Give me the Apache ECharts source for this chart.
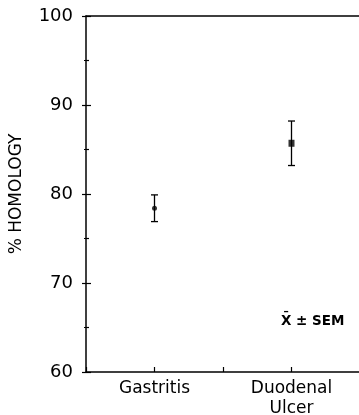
<!DOCTYPE html>
<html>
<head>
<meta charset="utf-8">
<script src="https://cdn.jsdelivr.net/npm/echarts@6/dist/echarts.min.js"></script>
<style>
html,body{margin:0;padding:0;background:#fff}
#chart{width:359px;height:415px}
</style>
</head>
<body>
<div id="chart"></div>
<script>
// groups and their x position on the axis
var categories = ['Gastritis', 'Duodenal\nUlcer'];
var xPos = [1, 3];
// mean % homology and SEM
var means = [78.4, 85.7];
var sem = [1.5, 2.5];
var marks = ['circle', 'rect'];
var markSize = [5, [6, 7]];
var yTicks = [60, 70, 80, 90, 100];

var myChart = echarts.init(document.getElementById('chart'));
var font = 'DejaVu Sans';

var option = {
  animation: false,
  grid: {left: 86, top: 16, width: 274, height: 356, outerBoundsMode: 'none', containLabel: false},
  xAxis: [{
    type: 'value', min: 0, max: 4, interval: 1,
    axisLine: {lineStyle: {color: '#000', width: 1.5}},
    axisTick: {inside: true, length: 5, lineStyle: {color: '#000', width: 1.2}},
    splitLine: {show: false},
    axisLabel: {
      margin: 7, color: '#000', fontFamily: font, fontSize: 17, lineHeight: 20,
      formatter: function (v) {
        var i = xPos.indexOf(v);
        return i >= 0 ? categories[i] : '';
      }
    }
  }, {
    type: 'value', min: 0, max: 4, position: 'top',
    axisLine: {show: true, lineStyle: {color: '#000', width: 1.5}},
    axisTick: {show: false}, axisLabel: {show: false}, splitLine: {show: false}
  }],
  yAxis: [{
    type: 'value', min: yTicks[0], max: yTicks[yTicks.length - 1], interval: 10,
    name: '% HOMOLOGY', nameLocation: 'middle', nameGap: 61, nameRotate: 90,
    nameTextStyle: {color: '#000', fontFamily: font, fontSize: 17},
    axisLine: {show: true, lineStyle: {color: '#000', width: 1.5}},
    axisTick: {inside: true, length: 5, lineStyle: {color: '#000', width: 1.2}},
    minorTick: {show: true, splitNumber: 2, length: 3, lineStyle: {color: '#000', width: 1.2}},
    splitLine: {show: false},
    axisLabel: {margin: 13, color: '#000', fontFamily: font, fontSize: 18}
  }, {
    type: 'value', min: yTicks[0], max: yTicks[yTicks.length - 1], interval: 10, position: 'right',
    axisLine: {show: false},
    axisTick: {show: true, inside: true, length: 4, lineStyle: {color: '#000', width: 1.2}},
    minorTick: {show: true, splitNumber: 2, length: 2, lineStyle: {color: '#000', width: 1.2}},
    splitLine: {show: false}, axisLabel: {show: false}
  }],
  series: [{
    type: 'custom',
    data: xPos.map(function (x, i) { return [x, means[i] - sem[i], means[i] + sem[i]]; }),
    renderItem: function (params, api) {
      var lo = api.coord([api.value(0), api.value(1)]);
      var hi = api.coord([api.value(0), api.value(2)]);
      var w = 3.5;
      var st = {stroke: '#000', lineWidth: 1.3};
      return {type: 'group', children: [
        {type: 'line', shape: {x1: lo[0], y1: lo[1], x2: hi[0], y2: hi[1]}, style: st},
        {type: 'line', shape: {x1: lo[0] - w, y1: lo[1], x2: lo[0] + w, y2: lo[1]}, style: st},
        {type: 'line', shape: {x1: hi[0] - w, y1: hi[1], x2: hi[0] + w, y2: hi[1]}, style: st}
      ]};
    }
  }, {
    type: 'scatter',
    itemStyle: {color: '#000'},
    data: xPos.map(function (x, i) {
      return {value: [x, means[i]], symbol: marks[i], symbolSize: markSize[i]};
    })
  }],
  graphic: [{
    type: 'text', left: 281, top: 314,
    style: {text: 'X\u0304 \u00B1 SEM', fill: '#000', font: '600 13.5px "DejaVu Sans"'}
  }]
};

myChart.setOption(option);
window.addEventListener("resize", function () {
  myChart.resize();
});
</script>
</body>
</html>
